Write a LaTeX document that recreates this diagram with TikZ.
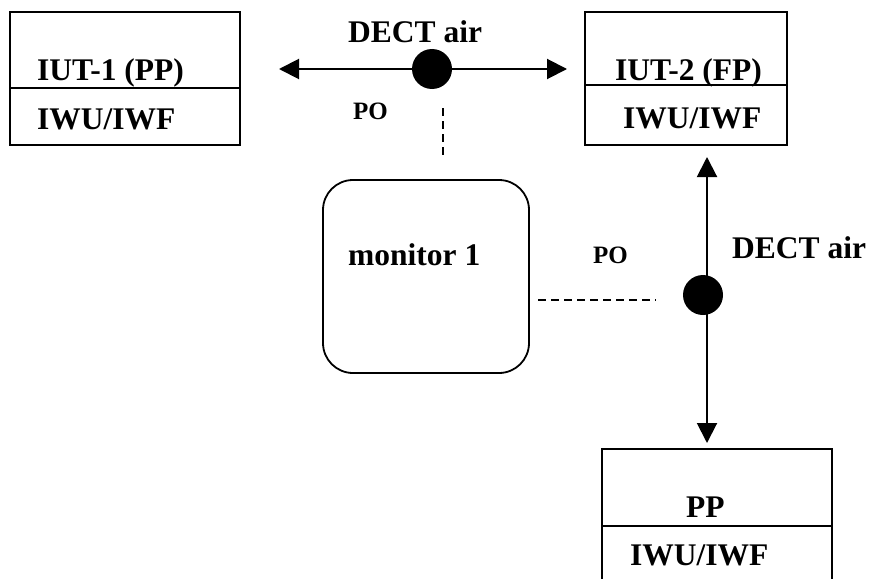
\documentclass[tikz,border=0pt]{standalone}
\usepackage{fontspec}
\setmainfont{Liberation Serif}
\usetikzlibrary{arrows.meta}
\tikzset{
  box/.style={draw, line width=1.8pt, rectangle, inner sep=0pt},
  mon/.style={draw, line width=1.8pt, rectangle, rounded corners=30pt, inner sep=0pt},
  lbl/.style={anchor=base west, inner sep=0pt, font=\bfseries\fontsize{31.5}{36}\selectfont},
  small/.style={anchor=base west, inner sep=0pt, font=\bfseries\fontsize{25}{30}\selectfont},
  dot/.style={circle, fill=black, minimum size=40pt, inner sep=0pt},
  link/.style={line width=2pt, {Triangle[length=20pt,width=20pt]}-{Triangle[length=20pt,width=20pt]}},
  poline/.style={line width=1.6pt, dash pattern=on 8pt off 5pt}
}
\begin{document}
\begin{tikzpicture}[x=1pt,y=-1pt]
\useasboundingbox (0,0) rectangle (869,578);
\clip (0,0) rectangle (869,578);
% boxes
\node[box, minimum width=230pt, minimum height=133pt] (b1) at (125,78.5) {};
\draw[line width=1.8pt] (10,88) -- (240,88);
\node[box, minimum width=202pt, minimum height=133pt] (b2) at (686,78.5) {};
\draw[line width=1.8pt] (585,85) -- (787,85);
\node[box, minimum width=230pt, minimum height=150pt] (b3) at (717,524) {};
\draw[line width=1.8pt] (602,526) -- (832,526);
\node[mon, minimum width=206pt, minimum height=193pt] (m) at (426,276.5) {};
% texts
\node[lbl] (t1) at (37,81) {IUT-1 (PP)};
\node[lbl] (t2) at (37,129) {IWU/IWF};
\node[lbl] (t3) at (615,80) {IUT-2 (FP)};
\node[lbl] (t4) at (623,128) {IWU/IWF};
\node[lbl] (t5) at (686,517) {PP};
\node[lbl] (t6) at (630,565) {IWU/IWF};
\node[lbl] (t7) at (348,265) {monitor 1};
\node[lbl] (d1) at (348,43) {DECT air};
\node[lbl] (d2) at (732,258) {DECT air};
\node[small] (p1) at (353,119) {PO};
\node[small] (p2) at (593,263) {PO};
% air links
\coordinate (aL) at (279,69);
\coordinate (aR) at (567,69);
\draw[link] (aL) -- (aR);
\node[dot] (c1) at (432,69) {};
\coordinate (vT) at (707,157);
\coordinate (vB) at (707,443);
\draw[link] (vT) -- (vB);
\node[dot] (c2) at (703,295) {};
% monitoring points
\coordinate (q1) at (443,108);
\coordinate (q2) at (443,155);
\draw[poline] (q1) -- (q2);
\coordinate (q3) at (538,300);
\coordinate (q4) at (656,300);
\draw[poline] (q3) -- (q4);
\end{tikzpicture}
\end{document}
